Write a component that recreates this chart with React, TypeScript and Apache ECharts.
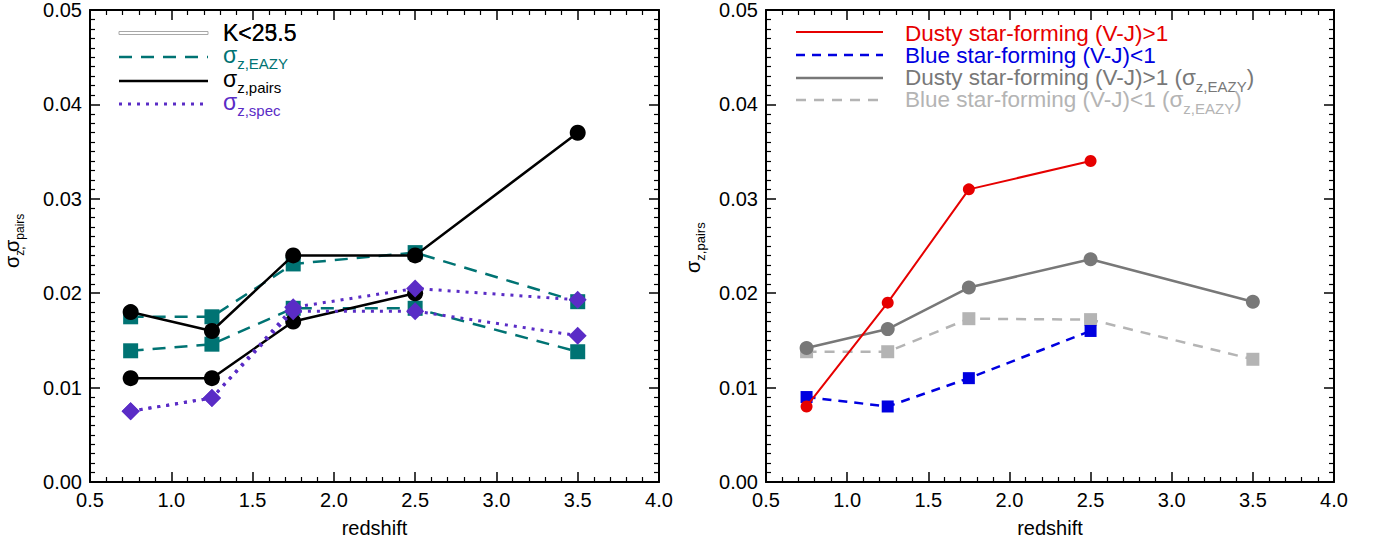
import React, { useEffect, useRef } from "react";
import * as echarts from "echarts";

// ---------- data ----------
const zBins = [0.75, 1.25, 1.75, 2.5, 3.5];
const xTicks = [0.5, 1.0, 1.5, 2.0, 2.5, 3.0, 3.5, 4.0];
const yTicks = [0.0, 0.01, 0.02, 0.03, 0.04, 0.05];

// left panel
const eazyBright = [0.0175, 0.0175, 0.0231, 0.0243, 0.0191];
const eazyFaint = [0.0139, 0.0146, 0.0184, 0.0184, 0.0138];
const pairsBright = [0.018, 0.016, 0.024, 0.024, 0.037];
const pairsFaint = [0.011, 0.011, 0.017, 0.02];
const specBright = [0.0075, 0.0089, 0.0185, 0.0205, 0.0193];
const specFaint = [0.0075, 0.0089, 0.0181, 0.0181, 0.0155];

// right panel
const dustySF = [0.008, 0.019, 0.031, 0.034];
const blueSF = [0.009, 0.008, 0.011, 0.016];
const dustySFEazy = [0.0142, 0.0162, 0.0206, 0.0236, 0.0191];
const blueSFEazy = [0.0138, 0.0138, 0.0173, 0.0172, 0.013];

const FONT = "'Liberation Sans', Arial, sans-serif";
const TEAL = "#007373";
const PURPLE = "#5a2cc6";
const RED = "#e60000";
const BLUE = "#0000e0";
const DGRAY = "#787878";
const LGRAY = "#b4b4b4";

const pts = (arr: number[]) => arr.map((v, i) => [zBins[i], v]);

function xAxisPair(gridIndex: number) {
  const common: any = {
    type: "value",
    gridIndex,
    min: xTicks[0],
    max: xTicks[xTicks.length - 1],
    interval: 0.5,
    splitLine: { show: false },
    axisLine: { onZero: false, lineStyle: { color: "#000", width: 2 } },
    axisTick: { inside: true, length: 10, lineStyle: { color: "#000", width: 1.5 } },
    minorTick: { show: true, splitNumber: 5, length: 5, lineStyle: { color: "#000", width: 1.2 } },
  };
  return [
    {
      ...common,
      position: "bottom",
      axisLabel: {
        color: "#000",
        fontSize: 20,
        fontFamily: FONT,
        margin: 8,
        formatter: (v: number) => v.toFixed(1),
      },
      name: "redshift",
      nameLocation: "middle",
      nameGap: 36,
      nameTextStyle: { color: "#000", fontSize: 20, fontFamily: FONT },
    },
    { ...common, position: "top", axisLabel: { show: false } },
  ];
}

function yAxisPair(gridIndex: number) {
  const common: any = {
    type: "value",
    gridIndex,
    min: yTicks[0],
    max: yTicks[yTicks.length - 1],
    interval: 0.01,
    splitLine: { show: false },
    axisLine: { onZero: false, lineStyle: { color: "#000", width: 2 } },
    axisTick: { inside: true, length: 10, lineStyle: { color: "#000", width: 1.5 } },
    minorTick: { show: true, splitNumber: 10, length: 5, lineStyle: { color: "#000", width: 1.2 } },
  };
  return [
    {
      ...common,
      position: "left",
      axisLabel: {
        color: "#000",
        fontSize: 20,
        fontFamily: FONT,
        margin: 8,
        formatter: (v: number) => v.toFixed(2),
      },
    },
    { ...common, position: "right", axisLabel: { show: false } },
  ];
}

const sigmaRich = (color: string, main: number, sub: number, lh: number) => ({
  s: { font: `${main}px ${FONT}`, fill: color, verticalAlign: "top", lineHeight: lh },
  b: { font: `${sub}px ${FONT}`, fill: color, verticalAlign: "bottom", lineHeight: lh },
  t: { font: `${main}px ${FONT}`, fill: color, verticalAlign: "top", lineHeight: lh },
});

function legendLine(x1: number, x2: number, y: number, color: string, width: number, dash?: number[]) {
  return {
    type: "line",
    shape: { x1, y1: y, x2, y2: y },
    style: { stroke: color, lineWidth: width, lineDash: dash },
    z: 50,
  };
}

function legendText(x: number, y: number, text: string, color: string, size: number) {
  return {
    type: "text",
    x,
    y,
    style: { text, fill: color, font: `${size}px ${FONT}`, verticalAlign: "middle" },
    z: 50,
  };
}

function richText(
  x: number,
  y: number,
  text: string,
  color: string,
  main: number,
  sub: number,
  lh: number,
  rotation = 0
) {
  return {
    type: "text",
    x,
    y,
    rotation,
    style: {
      text,
      fill: color,
      font: `${main}px ${FONT}`,
      rich: sigmaRich(color, main, sub, lh),
      align: "left",
      verticalAlign: "middle",
    },
    z: 50,
  };
}

export default function App() {
  const ref = useRef<HTMLDivElement>(null);
  useEffect(() => {
    if (!ref.current) return;
    const chart = echarts.init(ref.current, undefined, { renderer: "svg" });
    const lx = xAxisPair(0);
    const rx = xAxisPair(1);
    const ly = yAxisPair(0);
    const ry = yAxisPair(1);

    const option: any = {
      animation: false,
      backgroundColor: "#fff",
      grid: [
        { left: 90, top: 5, width: 569, height: 477 },
        { left: 766, top: 5, width: 568, height: 477 },
      ],
      xAxis: [...lx, ...rx],
      yAxis: [...ly, ...ry],
      series: [
        // left panel
        {
          type: "line", xAxisIndex: 0, yAxisIndex: 0, data: pts(eazyBright),
          symbol: "rect", symbolSize: 15, itemStyle: { color: TEAL },
          lineStyle: { color: TEAL, width: 2.5, type: [13, 9] }, z: 2,
        },
        {
          type: "line", xAxisIndex: 0, yAxisIndex: 0, data: pts(eazyFaint),
          symbol: "rect", symbolSize: 15, itemStyle: { color: TEAL },
          lineStyle: { color: TEAL, width: 2.5, type: [13, 9] }, z: 2,
        },
        {
          type: "line", xAxisIndex: 0, yAxisIndex: 0, data: pts(pairsBright),
          symbol: "circle", symbolSize: 16, itemStyle: { color: "#000" },
          lineStyle: { color: "#000", width: 2.5 }, z: 3,
        },
        {
          type: "line", xAxisIndex: 0, yAxisIndex: 0, data: pts(pairsFaint),
          symbol: "circle", symbolSize: 16, itemStyle: { color: "#000" },
          lineStyle: { color: "#000", width: 2.5 }, z: 3,
        },
        {
          type: "line", xAxisIndex: 0, yAxisIndex: 0, data: pts(specBright),
          symbol: "diamond", symbolSize: 18, itemStyle: { color: PURPLE },
          lineStyle: { color: PURPLE, width: 3, type: [3, 6] }, z: 4,
        },
        {
          type: "line", xAxisIndex: 0, yAxisIndex: 0, data: pts(specFaint),
          symbol: "diamond", symbolSize: 18, itemStyle: { color: PURPLE },
          lineStyle: { color: PURPLE, width: 3, type: [3, 6] }, z: 4,
        },
        // right panel
        {
          type: "line", xAxisIndex: 2, yAxisIndex: 2, data: pts(blueSFEazy),
          symbol: "rect", symbolSize: 13, itemStyle: { color: LGRAY },
          lineStyle: { color: LGRAY, width: 2.5, type: [10, 8] }, z: 2,
        },
        {
          type: "line", xAxisIndex: 2, yAxisIndex: 2, data: pts(dustySFEazy),
          symbol: "circle", symbolSize: 14, itemStyle: { color: DGRAY },
          lineStyle: { color: DGRAY, width: 2.5 }, z: 3,
        },
        {
          type: "line", xAxisIndex: 2, yAxisIndex: 2, data: pts(blueSF),
          symbol: "rect", symbolSize: 12, itemStyle: { color: BLUE },
          lineStyle: { color: BLUE, width: 2.5, type: [9, 7] }, z: 4,
        },
        {
          type: "line", xAxisIndex: 2, yAxisIndex: 2, data: pts(dustySF),
          symbol: "circle", symbolSize: 12, itemStyle: { color: RED },
          lineStyle: { color: RED, width: 2 }, z: 5,
        },
      ],
      graphic: [
        // left legend
        {
          type: "rect",
          shape: { x: 119, y: 31.5, width: 89, height: 3 },
          style: { fill: "#fff", stroke: "#a8a8a8", lineWidth: 1 },
          z: 50,
        },
        legendText(223, 33, "K<23.5", "#000", 23),
        legendText(223, 33, "K<25.5", "#000", 23),
        legendLine(119, 208, 57, TEAL, 2.5, [13, 9]),
        richText(223, 57, "{s|σ}{b|z,EAZY}", TEAL, 23, 15, 28),
        legendLine(119, 208, 81, "#000", 2.5),
        richText(223, 81, "{s|σ}{b|z,pairs}", "#000", 23, 15, 28),
        legendLine(119, 208, 104, PURPLE, 3, [3, 6]),
        richText(223, 104, "{s|σ}{b|z,spec}", PURPLE, 23, 15, 28),
        // left y-axis title
        richText(14, 268, "{s|σ}{b|z,}", "#000", 20, 12, 24, Math.PI / 2),
        richText(14, 252, "{s|σ}{b|pairs}", "#000", 20, 12, 24, Math.PI / 2),
        // right legend
        legendLine(796, 883, 32, RED, 2),
        legendText(905, 33, "Dusty star-forming (V-J)>1", RED, 22.5),
        legendLine(796, 883, 55, BLUE, 2.5, [9, 7]),
        legendText(905, 55, "Blue star-forming (V-J)<1", BLUE, 22.5),
        legendLine(796, 883, 78, DGRAY, 2.5),
        richText(905, 79.5, "{t|Dusty star-forming (V-J)>1 (}{s|σ}{b|z,EAZY}{t|)}", DGRAY, 22.5, 15, 28),
        legendLine(796, 883, 100, LGRAY, 2.5, [10, 8]),
        richText(905, 101.5, "{t|Blue star-forming (V-J)<1 (}{s|σ}{b|z,EAZY}{t|)}", LGRAY, 22.5, 15, 28),
        // right y-axis title
        richText(695, 273, "{s|σ}{b|z,pairs}", "#000", 20, 13, 24, Math.PI / 2),
      ],
    };
    chart.setOption(option);
    return () => chart.dispose();
  }, []);
  return (
    <div
      ref={ref}
      style={{ position: "absolute", left: 0, top: 0, width: 1383, height: 549, background: "#fff" }}
    />
  );
}
